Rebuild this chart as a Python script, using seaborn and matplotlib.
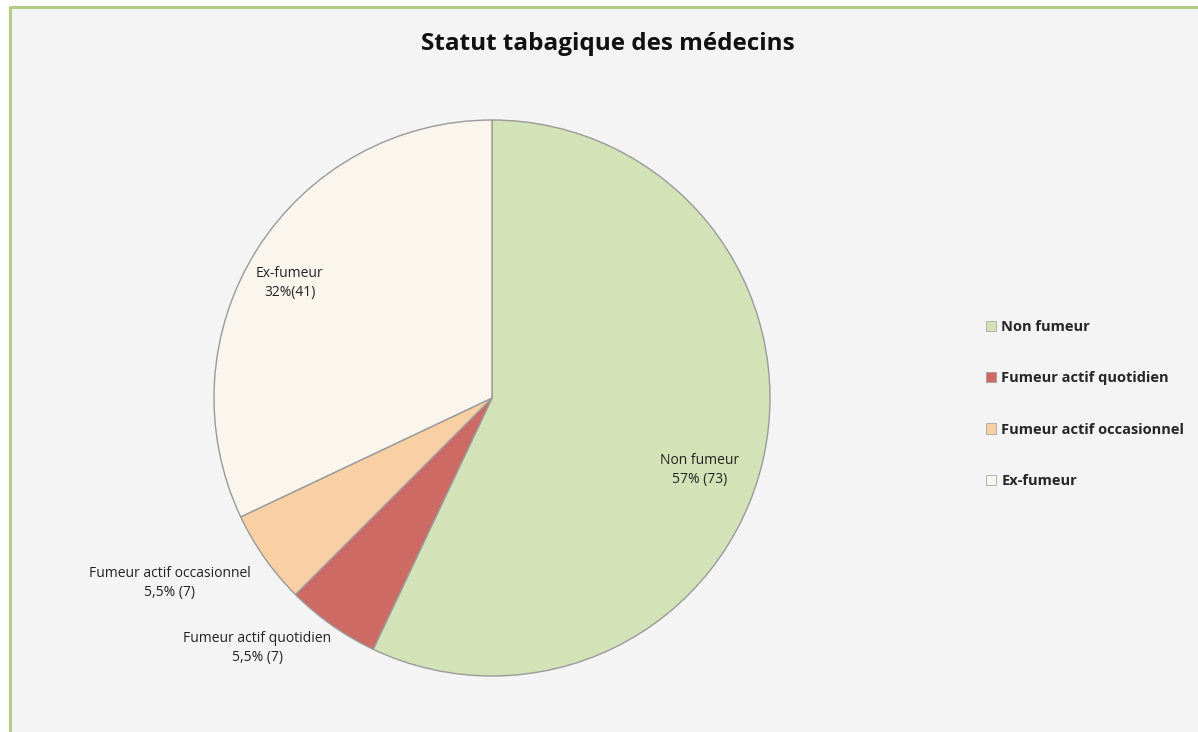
import matplotlib
matplotlib.use("Agg")
import matplotlib.pyplot as plt
import seaborn as sns
from matplotlib.patches import Rectangle
from matplotlib.lines import Line2D

categories = ["Non fumeur", "Fumeur actif quotidien", "Fumeur actif occasionnel", "Ex-fumeur"]
counts = [73, 7, 7, 41]
pct_labels = ["57% (73)", "5,5% (7)", "5,5% (7)", "32%(41)"]
title = "Statut tabagique des médecins"

sns.set_theme(style="white")
plt.rcParams["font.family"] = ["Open Sans", "DejaVu Sans"]

colors = sns.color_palette(["#D4E2B7", "#CD6A63", "#F8D0A4", "#FAF6EE"])

W, H = 1198, 732
fig = plt.figure(figsize=(W / 100, H / 100), dpi=100)
fig.patch.set_facecolor("white")

# chart area background and frame (top and left edges visible)
fig.add_artist(Rectangle((10 / W, 0), 1, 1 - 7 / H, transform=fig.transFigure,
                         facecolor="#F4F4F4", edgecolor="none", zorder=-5))
fig.add_artist(Line2D([9.5 / W, 9.5 / W], [0, 1 - 6.5 / H], transform=fig.transFigure,
                      color="#B3CE82", linewidth=2.2))
fig.add_artist(Line2D([9.5 / W, 1], [1 - 6.5 / H, 1 - 6.5 / H], transform=fig.transFigure,
                      color="#B3CE82", linewidth=2.2))

ax = fig.add_axes([214 / W, (H - 676) / H, 556 / W, 556 / H])
ax.set_facecolor("none")
wedges, _ = ax.pie(counts, colors=colors, startangle=90, counterclock=False,
                   radius=1.0,
                   wedgeprops=dict(edgecolor="#9A9A9A", linewidth=1.0))
ax.set_xlim(-1, 1)
ax.set_ylim(-1, 1)
ax.set_aspect("equal")
ax.axis("off")

label_pos = [(0.748, -0.259), (-0.845, -0.899), (-1.160, -0.665), (-0.727, 0.414)]
for cat, pl, (x, y) in zip(categories, pct_labels, label_pos):
    ax.text(x, y, f"{cat}\n{pl}", ha="center", va="center", fontsize=10,
            color="#222222", linespacing=1.35, clip_on=False)

fig.text(608 / W, 1 - 44 / H, title, ha="center", va="center",
         fontsize=17.5, fontweight="bold", color="#111111")

handles = [Rectangle((0, 0), 1, 1, facecolor=c, edgecolor="#999999", linewidth=0.5) for c in colors]
leg = fig.legend(handles, categories, loc="center left",
                 bbox_to_anchor=(973 / W, 1 - 404 / H),
                 frameon=False, handlelength=0.7, handleheight=0.7,
                 handletextpad=0.35, labelspacing=2.55,
                 prop={"weight": "bold", "size": 10.5})

fig.savefig("out.png", dpi=100, facecolor=fig.get_facecolor())
